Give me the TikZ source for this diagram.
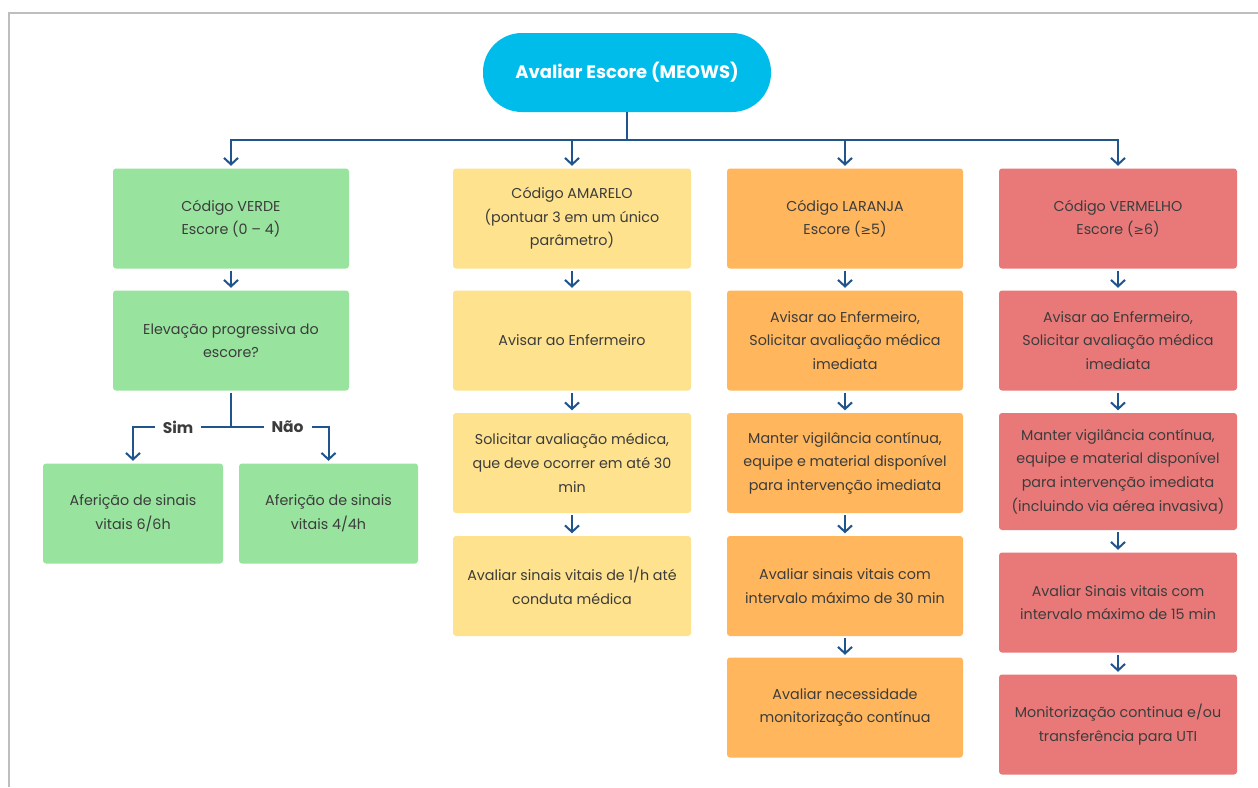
\documentclass[tikz,border=0pt]{standalone}
\usepackage{fontspec}
\setmainfont{Poppins}
\newfontfamily\symf{DejaVu Sans}
\usetikzlibrary{arrows.meta}
\definecolor{cgreen}{HTML}{98E49E}
\definecolor{cyellow}{HTML}{FEE28E}
\definecolor{corange}{HTML}{FFB65C}
\definecolor{cred}{HTML}{E97979}
\definecolor{ccyan}{HTML}{00BCEB}
\definecolor{carrow}{HTML}{1F548C}
\definecolor{ctext}{HTML}{3C3C3C}
\definecolor{cborder}{HTML}{BEBEBE}
\newcommand{\mygeq}{{\symf\fontsize{12.5}{12}\selectfont ≥}}
\begin{document}
\begin{tikzpicture}[x=1pt,y=-1pt,
  box/.style={rectangle, rounded corners=3pt, minimum width=236pt, minimum height=100pt,
    align=center, inner sep=0pt, text=ctext, font=\fontsize{14.3}{23.6}\selectfont},
  conn/.style={draw=carrow, line width=2pt},
  arr/.style={conn, -{Straight Barb[length=6.5pt,width=14pt]}, shorten >=2.5pt},
  lab/.style={fill=white, inner xsep=8pt, inner ysep=2pt, text=ctext, font=\fontsize{15.5}{18}\selectfont\bfseries}
]
\useasboundingbox (0,0) rectangle (1258,787);
\fill[white] (0,0) rectangle (1258,787);
\draw[cborder, line width=2pt] (9,787) -- (9,13) -- (1258,13);

% top
\node[rectangle, rounded corners=39pt, minimum width=288pt, minimum height=79pt, fill=ccyan,
  text=white, font=\fontsize{18}{20}\selectfont\bfseries] (top) at (627,72.5) {Avaliar Escore (MEOWS)};

% green
\node[box, fill=cgreen] (g1) at (231,218.5) {Código VERDE\\Escore (0 – 4)};
\node[box, fill=cgreen] (g2) at (231,340.5) {Elevação progressiva do\\escore?};
\node[box, fill=cgreen, minimum width=180pt] (g3) at (133,513.5) {Aferição de sinais\\vitais 6/6h};
\node[box, fill=cgreen, minimum width=179pt] (g4) at (328.5,513.5) {Aferição de sinais\\vitais 4/4h};

% yellow
\node[box, fill=cyellow, minimum width=238pt] (y1) at (572,218.5) {Código AMARELO\\(pontuar 3 em um único\\parâmetro)};
\node[box, fill=cyellow, minimum width=238pt] (y2) at (572,340.5) {Avisar ao Enfermeiro};
\node[box, fill=cyellow, minimum width=238pt] (y3) at (572,463) {Solicitar avaliação médica,\\que deve ocorrer em até 30\\min};
\node[box, fill=cyellow, minimum width=238pt] (y4) at (572,586) {Avaliar sinais vitais de 1/h até\\conduta médica};

% orange
\node[box, fill=corange] (o1) at (845,218.5) {Código LARANJA\\Escore (\mygeq5)};
\node[box, fill=corange] (o2) at (845,340.5) {Avisar ao Enfermeiro,\\Solicitar avaliação médica\\imediata};
\node[box, fill=corange] (o3) at (845,463) {Manter vigilância contínua,\\equipe e material disponível\\para intervenção imediata};
\node[box, fill=corange] (o4) at (845,586) {Avaliar sinais vitais com\\intervalo máximo de 30 min};
\node[box, fill=corange] (o5) at (845,707.5) {Avaliar necessidade\\monitorização contínua};

% red
\node[box, fill=cred, minimum width=238pt] (r1) at (1118,218.5) {Código VERMELHO\\Escore (\mygeq6)};
\node[box, fill=cred, minimum width=238pt] (r2) at (1118,340.5) {Avisar ao Enfermeiro,\\Solicitar avaliação médica\\imediata};
\node[box, fill=cred, minimum width=238pt, minimum height=117pt] (r3) at (1118,471.5) {Manter vigilância contínua,\\equipe e material disponível\\para intervenção imediata\\(incluindo via aérea invasiva)};
\node[box, fill=cred, minimum width=238pt] (r4) at (1118,602.5) {Avaliar Sinais vitais com\\intervalo máximo de 15 min};
\node[box, fill=cred, minimum width=238pt] (r5) at (1118,724.5) {Monitorização continua e/ou\\transferência para UTI};

% main split
\coordinate (split) at (627,140);
\draw[conn] (top.south) -- (split);
\foreach \n in {g1,y1,o1,r1} \draw[arr] (split) -| (\n.north);

% chains
\foreach \a/\b in {g1/g2,y1/y2,y2/y3,y3/y4,o1/o2,o2/o3,o3/o4,o4/o5,r1/r2,r2/r3,r3/r4,r4/r5}
  \draw[arr, shorten <=2pt] (\a.south) -- (\b.north);

% sim / nao
\coordinate (gs) at (231,427);
\draw[conn] (g2.south) ++(0,2) -- (gs);
\draw[arr] (gs) -| node[lab, pos=0.27] {Sim} (g3.north);
\draw[arr] (gs) -| node[lab, pos=0.29] {Não} (g4.north);
\end{tikzpicture}
\end{document}
